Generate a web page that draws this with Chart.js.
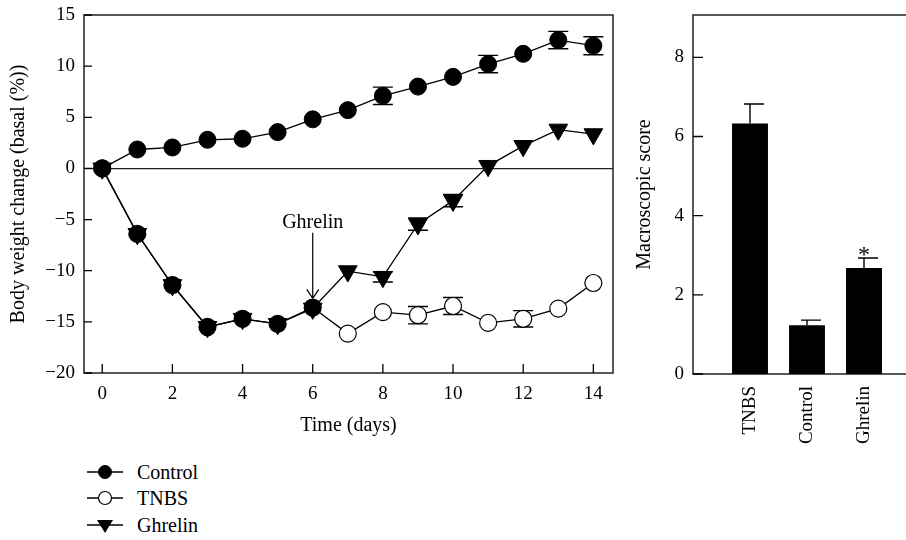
<!DOCTYPE html>
<html>
<head>
<meta charset="utf-8">
<script src="https://cdn.jsdelivr.net/npm/chart.js@4.4.1/dist/chart.umd.min.js"></script>
<style>
html,body{margin:0;padding:0;background:#fff;overflow:hidden;width:906px;height:540px;}
#wrap{position:relative;width:906px;height:540px;overflow:hidden;}
#c1{position:absolute;left:0;top:0;}
#c2{position:absolute;left:620px;top:0;}
.leg{position:absolute;left:86px;height:26px;display:flex;align-items:center;font-family:'Liberation Serif','Times New Roman',serif;font-size:20px;color:#000;}
.leg svg{margin-right:13px;}
</style>
</head>
<body>
<div id="wrap">
<canvas id="c1" width="625" height="445"></canvas>
<canvas id="c2" width="301" height="445"></canvas>
<div class="leg" style="top:459px"><svg width="38" height="20"><line x1="1" y1="10" x2="37" y2="10" stroke="#000" stroke-width="1.3"/><circle cx="19" cy="10" r="6.5" fill="#000" stroke="#000"/></svg><span>Control</span></div>
<div class="leg" style="top:485px"><svg width="38" height="20"><line x1="1" y1="10" x2="37" y2="10" stroke="#000" stroke-width="1.3"/><circle cx="19" cy="10" r="6.5" fill="#fff" stroke="#000" stroke-width="1.2"/></svg><span>TNBS</span></div>
<div class="leg" style="top:512px"><svg width="38" height="20"><line x1="1" y1="10" x2="37" y2="10" stroke="#000" stroke-width="1.3"/><polygon points="11,5 27,5 19,18" fill="#000"/></svg><span>Ghrelin</span></div>
</div>
<script>
// ---- data: body weight change (%) vs time ----
const days = [0,1,2,3,4,5,6,7,8,9,10,11,12,13,14];
const controlMean = [0, 1.85, 2.05, 2.8, 2.9, 3.55, 4.8, 5.7, 7.1, 8.0, 8.95, 10.2, 11.2, 12.55, 12.0];
const controlErr  = [0, 0, 0, 0, 0, 0, 0, 0, 0.85, 0, 0, 0.85, 0, 0.85, 0.88];
const tnbsMean    = [0, -6.4, -11.4, -15.5, -14.7, -15.2, -13.6, -16.15, -14.05, -14.35, -13.45, -15.1, -14.7, -13.7, -11.2];
const tnbsErr     = [0, 0, 0, 0, 0, 0, 0, 0, 0, 0.85, 0.83, 0, 0.8, 0, 0];
const ghrelinMean = [0, -6.4, -11.4, -15.5, -14.7, -15.2, -13.7, -10.05, -10.6, -5.45, -3.15, 0.25, 2.2, 3.8, 3.35];
const ghrelinErr  = [0, 0, 0, 0, 0, 0, 0, 0, 0.5, 0.6, 0.6, 0, 0, 0, 0];
const treatmentDay = 6;
const xTicks = [0,2,4,6,8,10,12,14];
const yTicks = [-20,-15,-10,-5,0,5,10,15];
const note = {day: 6, text: 'Ghrelin', textY: -5.35, from: -6.3, to: -12.7};

// ---- data: macroscopic score ----
const groups = ['TNBS','Control','Ghrelin'];
const scoreMean = [6.33, 1.23, 2.68];
const scoreErr  = [0.49, 0.13, 0.25];
const scoreSig  = ['', '', '*'];
const scoreTicks = [0,2,4,6,8];

const FAM = "'Liberation Serif','Times New Roman',serif";
const tickFont = {family: FAM, size: 19};
const titleFont = {family: FAM, size: 20};
const INK = '#000';

const pts = arr => days.map((d,i)=>({x:d, y:arr[i]}));
const errMap = {Control: controlErr, TNBS: tnbsErr, Ghrelin: ghrelinErr};

const leftPlugin = {
  id: 'leftDecor',
  beforeDatasetsDraw(chart){
    const {ctx, chartArea:a, scales:{x,y}} = chart;
    ctx.save();
    ctx.strokeStyle = '#222'; ctx.lineWidth = 1.5;
    ctx.strokeRect(a.left, a.top, a.right-a.left, a.bottom-a.top);
    ctx.lineWidth = 1.3; ctx.strokeStyle = INK;
    ctx.beginPath();
    yTicks.forEach(v=>{const p=y.getPixelForValue(v); ctx.moveTo(a.left,p); ctx.lineTo(a.left+8,p);});
    xTicks.forEach(v=>{const p=x.getPixelForValue(v); ctx.moveTo(p,a.bottom); ctx.lineTo(p,a.bottom-9);});
    ctx.stroke();
    // error bars
    ctx.lineWidth = 1.4;
    chart.data.datasets.forEach(ds=>{
      const err = errMap[ds.label];
      ds.data.forEach((pt,i)=>{
        const e = err[i]; if(!e) return;
        const px = x.getPixelForValue(pt.x);
        const yt = y.getPixelForValue(pt.y+e), yb = y.getPixelForValue(pt.y-e);
        ctx.beginPath();
        ctx.moveTo(px,yt); ctx.lineTo(px,yb);
        ctx.moveTo(px-10,yt); ctx.lineTo(px+10,yt);
        ctx.moveTo(px-10,yb); ctx.lineTo(px+10,yb);
        ctx.stroke();
      });
    });
    ctx.restore();
  },
  afterDatasetsDraw(chart){
    const {ctx, scales:{x,y}} = chart;
    ctx.save();
    const px = x.getPixelForValue(note.day);
    ctx.fillStyle = INK;
    ctx.font = `20px ${FAM}`;
    ctx.textAlign = 'center'; ctx.textBaseline = 'middle';
    ctx.fillText(note.text, px, y.getPixelForValue(note.textY));
    const y1 = y.getPixelForValue(note.from), y2 = y.getPixelForValue(note.to);
    ctx.strokeStyle = INK; ctx.lineWidth = 1.2;
    ctx.beginPath();
    ctx.moveTo(px,y1); ctx.lineTo(px,y2);
    ctx.moveTo(px-6,y2-9); ctx.lineTo(px,y2); ctx.lineTo(px+6,y2-9);
    ctx.stroke();
    ctx.restore();
  }
};

new Chart(document.getElementById('c1'), {
  type: 'line',
  data: {
    datasets: [
      {label:'Control', data: pts(controlMean), borderColor: INK, borderWidth: 1.3,
       pointStyle:'circle', pointRadius: 8.5, pointBackgroundColor: INK, pointBorderColor: INK, pointBorderWidth: 1, order: 1},
      {label:'TNBS', data: pts(tnbsMean), borderColor: INK, borderWidth: 1.3,
       pointStyle:'circle', pointRadius: 8.5,
       pointBackgroundColor: days.map(d=> d<=treatmentDay ? INK : '#fff'),
       pointBorderColor: INK, pointBorderWidth: 1.2, order: 2},
      {label:'Ghrelin', data: pts(ghrelinMean), borderColor: INK, borderWidth: 1.3,
       pointStyle:'triangle', pointRotation: 180, pointRadius: 10.8, pointBackgroundColor: INK, pointBorderColor: INK, pointBorderWidth: 1, order: 3}
    ]
  },
  options: {
    responsive:false, animation:false, devicePixelRatio:1,
    layout:{padding:{top:15,right:12,left:0,bottom:0}},
    plugins:{legend:{display:false}, tooltip:{enabled:false}},
    scales:{
      x:{type:'linear', min:-0.52, max:14.56,
        afterBuildTicks(s){ s.ticks = xTicks.map(v=>({value:v})); },
        afterFit(s){ s.height = 72; s.paddingLeft = 0; s.paddingRight = 0; },
        grid:{display:false, drawTicks:false}, border:{display:false},
        ticks:{padding:10, font:tickFont, color:INK, maxRotation:0, autoSkip:false},
        title:{display:true, text:'Time (days)', font:titleFont, color:INK, padding:{top:0,bottom:7}}},
      y:{type:'linear', min:-20, max:15,
        afterBuildTicks(s){ s.ticks = yTicks.map(v=>({value:v})); },
        afterFit(s){ s.width = 84; s.paddingTop = 0; s.paddingBottom = 0; },
        grid:{drawTicks:false, lineWidth:1.3, color: c => (c.tick && c.tick.value===0) ? '#222' : 'rgba(0,0,0,0)'},
        border:{display:false},
        ticks:{padding:9, font:tickFont, color:INK, callback: v => v<0 ? '\u2212'+Math.abs(v) : String(v)},
        title:{display:true, text:'Body weight change (basal (%))', font:titleFont, color:INK, padding:{top:7,bottom:0}}}
    }
  },
  plugins:[leftPlugin]
});

const rightPlugin = {
  id:'rightDecor',
  beforeDatasetsDraw(chart){
    const {ctx, chartArea:a, scales:{y}} = chart;
    ctx.save();
    ctx.strokeStyle = '#222'; ctx.lineWidth = 1.5;
    ctx.beginPath();
    ctx.moveTo(chart.width, a.top); ctx.lineTo(a.left, a.top); ctx.lineTo(a.left, a.bottom); ctx.lineTo(chart.width, a.bottom);
    ctx.stroke();
    ctx.lineWidth = 1.3; ctx.strokeStyle = INK;
    ctx.beginPath();
    scoreTicks.forEach(v=>{const p=y.getPixelForValue(v); ctx.moveTo(a.left,p); ctx.lineTo(a.left+10,p);});
    ctx.stroke();
    ctx.restore();
  },
  afterDatasetsDraw(chart){
    const {ctx, scales:{x,y}} = chart;
    ctx.save();
    ctx.strokeStyle = INK; ctx.lineWidth = 1.4; ctx.fillStyle = INK;
    groups.forEach((g,i)=>{
      const px = x.getPixelForValue(i+1);
      const yb = y.getPixelForValue(scoreMean[i]);
      const yt = y.getPixelForValue(scoreMean[i]+scoreErr[i]);
      ctx.beginPath();
      ctx.moveTo(px,yb); ctx.lineTo(px,yt);
      ctx.moveTo(px-6,yt); ctx.lineTo(px+14,yt);
      ctx.stroke();
      if (scoreSig[i]) {
        ctx.font = `24px ${FAM}`;
        ctx.textAlign = 'center'; ctx.textBaseline = 'alphabetic';
        ctx.fillText(scoreSig[i], px, yt+4);
      }
    });
    ctx.restore();
  }
};

new Chart(document.getElementById('c2'), {
  type:'bar',
  data:{
    labels: ['', ...groups, ''],
    datasets:[{data:[null, ...scoreMean, null], backgroundColor:INK, borderWidth:0,
      barPercentage:0.63, categoryPercentage:1}]
  },
  options:{
    responsive:false, animation:false, devicePixelRatio:1,
    layout:{padding:{top:15,right:0,left:0,bottom:0}},
    plugins:{legend:{display:false}, tooltip:{enabled:false}},
    scales:{
      x:{type:'category', offset:false,
        afterFit(s){ s.height = 71; s.paddingLeft = 0; s.paddingRight = 0; },
        grid:{display:false, drawTicks:false}, border:{display:false},
        ticks:{padding:12, font:tickFont, color:INK, minRotation:90, maxRotation:90, autoSkip:false}},
      y:{type:'linear', min:0, max:9.07,
        afterBuildTicks(s){ s.ticks = scoreTicks.map(v=>({value:v})); },
        afterFit(s){ s.width = 73; s.paddingTop = 0; s.paddingBottom = 0; },
        grid:{display:false, drawTicks:false}, border:{display:false},
        ticks:{padding:9, font:tickFont, color:INK},
        title:{display:true, text:'Macroscopic score', font:titleFont, color:INK, padding:{top:13,bottom:0}}}
    }
  },
  plugins:[rightPlugin]
});
</script>
</body>
</html>
